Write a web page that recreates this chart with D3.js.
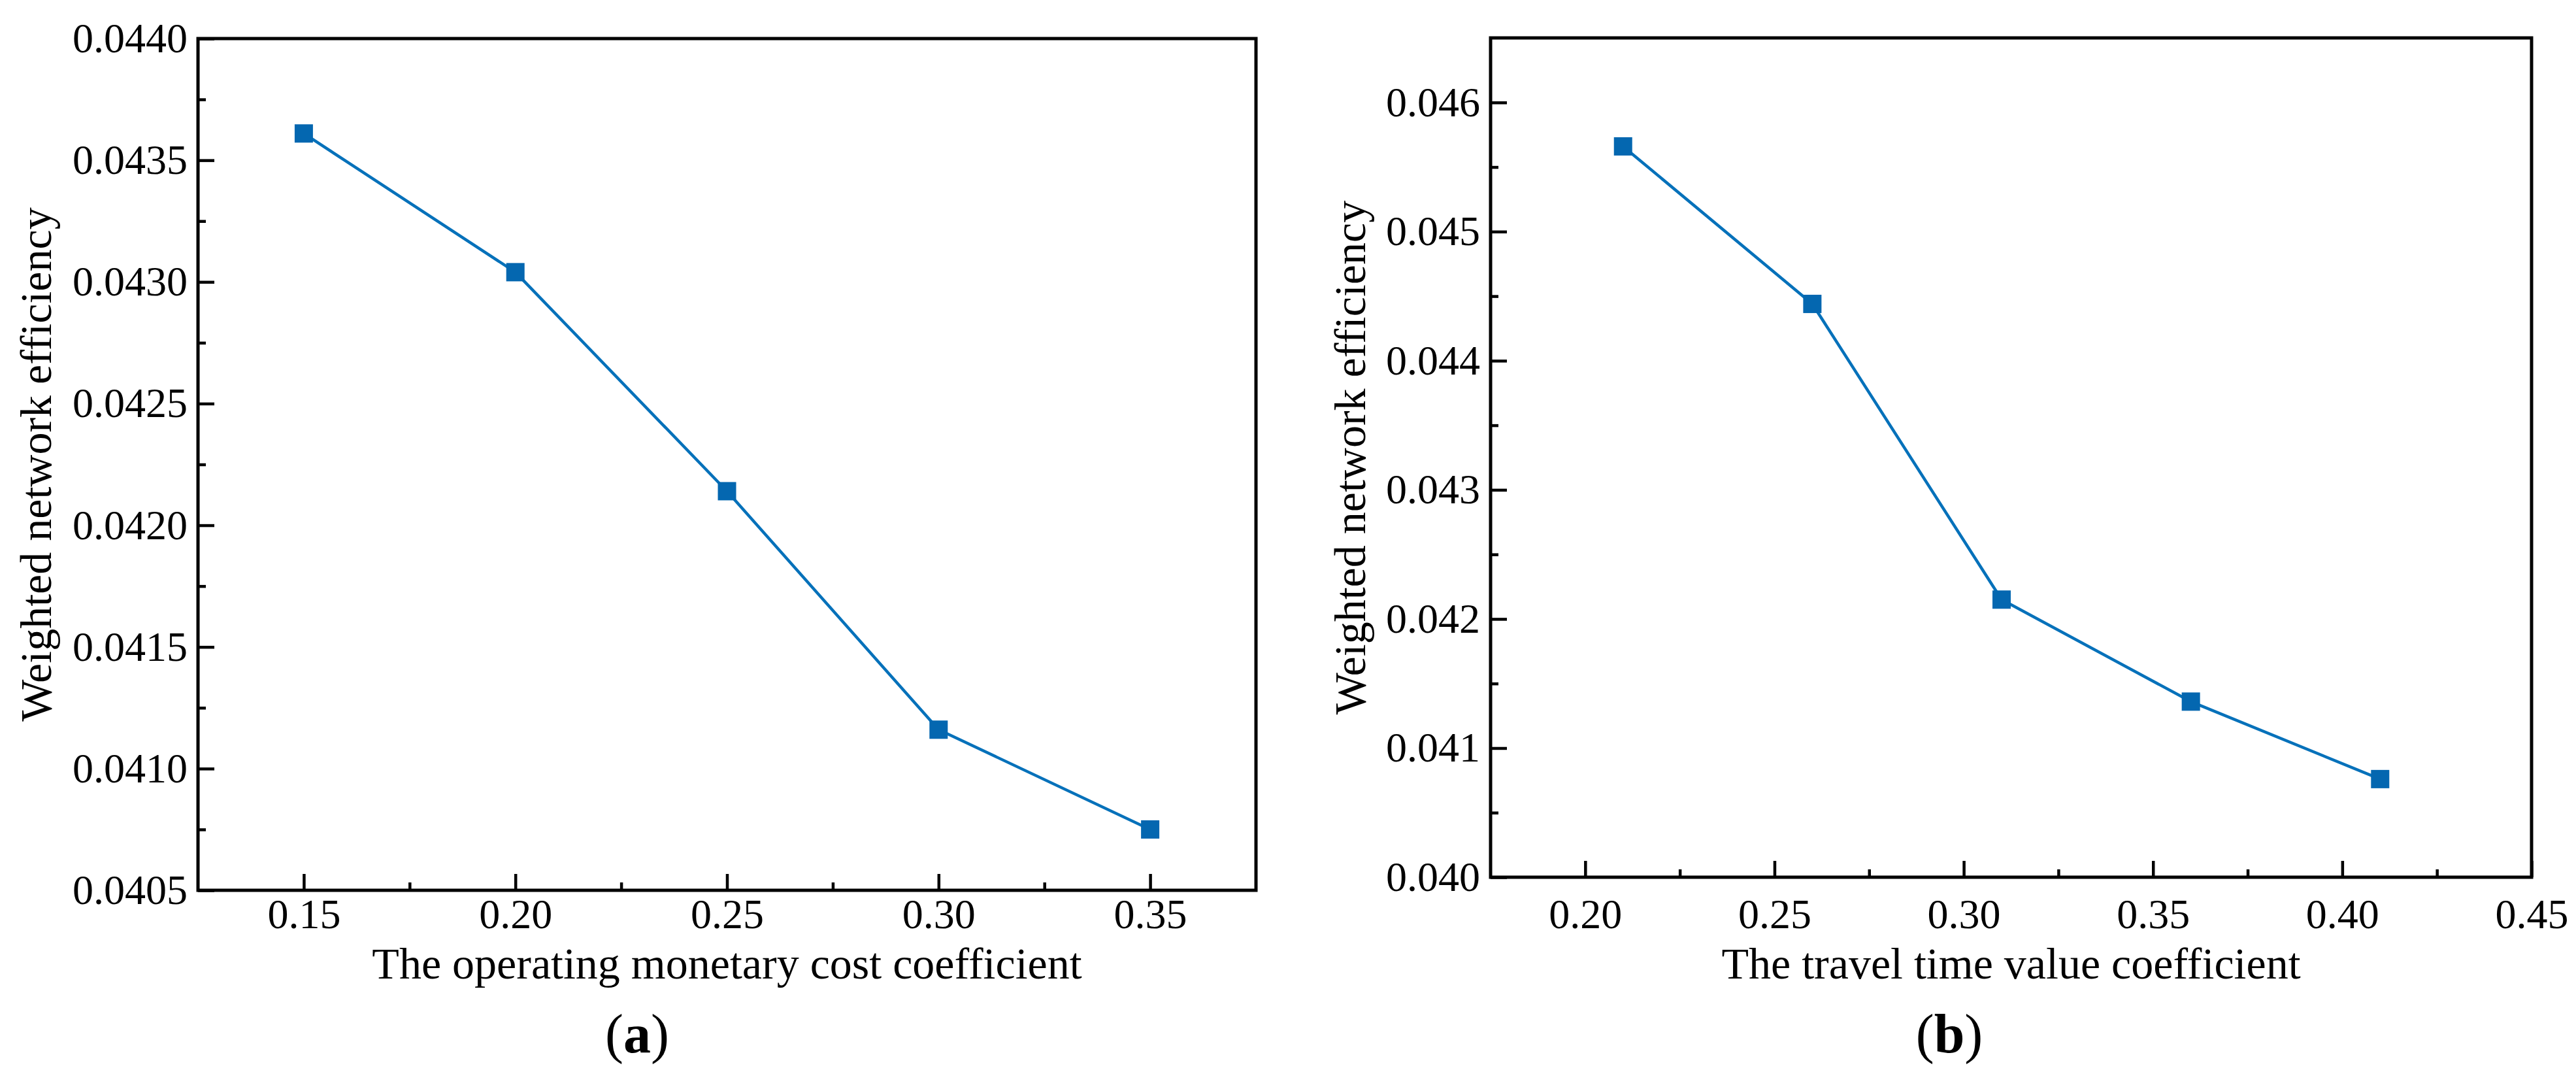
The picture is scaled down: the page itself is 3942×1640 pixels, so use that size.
<!DOCTYPE html>
<html>
<head>
<meta charset="utf-8">
<script src="https://cdn.jsdelivr.net/npm/d3@7"></script>
<style>
  html, body { margin: 0; padding: 0; background: #ffffff; }
  svg { display: block; }
  text { font-family: "Liberation Serif", "Times New Roman", "DejaVu Serif", serif; fill: #000; }
</style>
</head>
<body>
<svg id="chart" width="3942" height="1640"></svg>
<script>
// ---------------- data ----------------
const panelA_x = [0.15, 0.20, 0.25, 0.30, 0.35];
const panelA_y = [0.04361, 0.04304, 0.04214, 0.04116, 0.04075];
const panelA_xTicks = [0.15, 0.20, 0.25, 0.30, 0.35];
const panelA_xMinor = [0.175, 0.225, 0.275, 0.325];
const panelA_yTicks = [0.0405, 0.0410, 0.0415, 0.0420, 0.0425, 0.0430, 0.0435, 0.0440];
const panelA_yMinor = [0.04075, 0.04125, 0.04175, 0.04225, 0.04275, 0.04325, 0.04375];
const panelA_xTitle = "The operating monetary cost coefficient";
const panelA_yTitle = "Weighted network efficiency";
const panelA_tag = "a";

const panelB_x = [0.21, 0.26, 0.31, 0.36, 0.41];
const panelB_y = [0.04566, 0.04444, 0.04215, 0.04136, 0.04076];
const panelB_xTicks = [0.20, 0.25, 0.30, 0.35, 0.40, 0.45];
const panelB_xMinor = [0.225, 0.275, 0.325, 0.375, 0.425];
const panelB_yTicks = [0.040, 0.041, 0.042, 0.043, 0.044, 0.045, 0.046];
const panelB_yMinor = [0.0405, 0.0415, 0.0425, 0.0435, 0.0445, 0.0455];
const panelB_xTitle = "The travel time value coefficient";
const panelB_yTitle = "Weighted network efficiency";
const panelB_tag = "b";

// ---------------- drawing ----------------
const FONT = '"Liberation Serif", "Times New Roman", serif';
const svg = d3.select("#chart");
const LINE_COLOR = "#0671ba";
const MARK_COLOR = "#0467b0";

function drawPanel(o) {
  const x = d3.scaleLinear().domain(o.xDomain).range([o.left, o.right]);
  const y = d3.scaleLinear().domain(o.yDomain).range([o.bottom, o.top]);
  const g = svg.append("g");

  const bx = g.append("g").attr("transform", `translate(0,${o.bottom})`)
    .call(d3.axisBottom(x).tickValues(o.xTicks).tickSizeInner(-25).tickSizeOuter(0)
      .tickPadding(o.xPad).tickFormat(d3.format(".2f")));
  const bxm = g.append("g").attr("transform", `translate(0,${o.bottom})`)
    .call(d3.axisBottom(x).tickValues(o.xMinor).tickSizeInner(-12).tickSizeOuter(0).tickFormat(""));
  const ly = g.append("g").attr("transform", `translate(${o.left},0)`)
    .call(d3.axisLeft(y).tickValues(o.yTicks).tickSizeInner(-25).tickSizeOuter(0)
      .tickPadding(16).tickFormat(d3.format(o.yFmt)));
  const lym = g.append("g").attr("transform", `translate(${o.left},0)`)
    .call(d3.axisLeft(y).tickValues(o.yMinor).tickSizeInner(-12).tickSizeOuter(0).tickFormat(""));

  [bx, bxm, ly, lym].forEach(a => {
    a.attr("font-family", FONT).attr("font-size", 64);
    a.select(".domain").remove();
    a.selectAll(".tick line").attr("stroke", "#000").attr("stroke-width", 4.5);
    a.selectAll(".tick text").attr("font-family", FONT).attr("font-size", 64).attr("fill", "#000");
  });

  g.append("rect")
    .attr("x", o.left).attr("y", o.top)
    .attr("width", o.right - o.left).attr("height", o.bottom - o.top)
    .attr("fill", "none").attr("stroke", "#000").attr("stroke-width", 5);

  const pts = o.xs.map((v, i) => [v, o.ys[i]]);
  g.append("path")
    .datum(pts)
    .attr("fill", "none").attr("stroke", LINE_COLOR).attr("stroke-width", 4.5)
    .attr("stroke-linejoin", "round")
    .attr("d", d3.line().x(d => x(d[0])).y(d => y(d[1])));

  const ms = 28;
  g.selectAll("rect.mk").data(pts).enter().append("rect")
    .attr("class", "mk")
    .attr("x", d => x(d[0]) - ms / 2).attr("y", d => y(d[1]) - ms / 2)
    .attr("width", ms).attr("height", ms).attr("fill", MARK_COLOR);

  g.append("text")
    .attr("x", (o.left + o.right) / 2).attr("y", o.xTitleY)
    .attr("text-anchor", "middle").attr("font-family", FONT).attr("font-size", 68)
    .text(o.xTitle);
  g.append("text")
    .attr("transform", `translate(${o.yTitleX},${(o.top + o.bottom) / 2}) rotate(-90)`)
    .attr("text-anchor", "middle").attr("font-family", FONT).attr("font-size", 68)
    .text(o.yTitle);

  const t = g.append("text")
    .attr("x", o.tagX).attr("y", 1610)
    .attr("text-anchor", "middle").attr("font-family", FONT).attr("font-size", 84);
  t.append("tspan").text("(");
  t.append("tspan").attr("font-weight", "bold").text(o.tag);
  t.append("tspan").text(")");
}

drawPanel({
  xs: panelA_x, ys: panelA_y,
  xDomain: [0.125, 0.375], yDomain: [0.0405, 0.0440],
  left: 303, right: 1922, top: 59, bottom: 1362,
  xTicks: panelA_xTicks, xMinor: panelA_xMinor,
  yTicks: panelA_yTicks, yMinor: panelA_yMinor,
  yFmt: ".4f", xPad: 13,
  xTitle: panelA_xTitle, yTitle: panelA_yTitle, xTitleY: 1497, yTitleX: 78,
  tag: panelA_tag, tagX: 975
});

drawPanel({
  xs: panelB_x, ys: panelB_y,
  xDomain: [0.175, 0.45], yDomain: [0.040, 0.0465],
  left: 2281, right: 3874, top: 58, bottom: 1342,
  xTicks: panelB_xTicks, xMinor: panelB_xMinor,
  yTicks: panelB_yTicks, yMinor: panelB_yMinor,
  yFmt: ".3f", xPad: 33,
  xTitle: panelB_xTitle, yTitle: panelB_yTitle, xTitleY: 1497, yTitleX: 2089,
  tag: panelB_tag, tagX: 2983
});
</script>
</body>
</html>
